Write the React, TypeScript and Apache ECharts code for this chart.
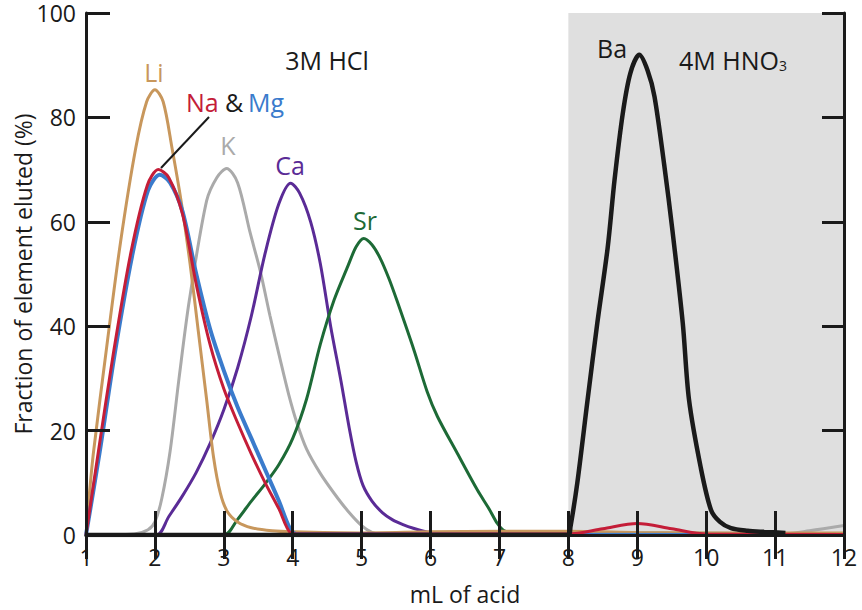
import React, { useEffect, useRef } from "react";
import * as echarts from "echarts";

type Pt = [number, number];

const xTicks = [1, 2, 3, 4, 5, 6, 7, 8, 9, 10, 11, 12];
const yTicks = [0, 20, 40, 60, 80, 100];

const li: Pt[] = [
  [1, 0], [1.05, 8], [1.11, 16], [1.3, 36], [1.5, 56], [1.72, 74], [1.88, 83], [2, 85.3],
  [2.12, 83], [2.25, 74], [2.38, 64], [2.51, 52], [2.63, 39], [2.75, 26], [2.85, 15],
  [2.95, 8], [3.05, 4.5], [3.2, 2.5], [3.4, 1.4], [3.7, 0.8], [4, 0.6], [5, 0.4],
  [6, 0.6], [7, 0.7], [8, 0.7], [9, 0.5], [10, 0.4], [12, 0.4],
];

const na: Pt[] = [
  [1, 0], [1.18, 16], [1.4, 35], [1.65, 54], [1.89, 67], [2.05, 70], [2.2, 68.5],
  [2.4, 61.5], [2.6, 48], [2.8, 36.5], [3, 28], [3.2, 21.5], [3.4, 15.5], [3.6, 10],
  [3.8, 5], [3.97, 0.4], [4.1, 0.2], [8, 0.2], [8.5, 1.2], [9, 2.2], [9.5, 1.2],
  [10, 0.2], [12, 0.1],
];

const mg: Pt[] = [
  [1, 0], [1.2, 16], [1.42, 35], [1.67, 53.5], [1.9, 66], [2.07, 69], [2.22, 67.5],
  [2.4, 62], [2.6, 50], [2.8, 39.5], [3, 31.5], [3.2, 24.5], [3.4, 18.5], [3.6, 12.5],
  [3.8, 6.5], [3.95, 1.5], [4.05, 0.2], [12, 0],
];

const k: Pt[] = [
  [1, 0], [1.7, 0.2], [1.9, 1], [2, 2.5], [2.1, 7], [2.22, 16], [2.35, 30], [2.5, 45],
  [2.75, 64], [2.9, 68.5], [3.04, 70.2], [3.2, 67.5], [3.38, 58], [3.53, 50.5], [3.67, 42],
  [3.82, 33.5], [3.94, 27], [4.06, 21.5], [4.2, 16.5], [4.4, 11.8], [4.6, 8], [4.8, 4.6],
  [5, 1.8], [5.15, 0.5], [5.3, 0.1], [11.1, 0.2], [11.5, 0.8], [12, 1.8],
];

const ca: Pt[] = [
  [1, 0], [2.02, 0], [2.2, 3.5], [2.4, 7.5], [2.6, 12], [2.8, 17.5], [3, 24], [3.2, 32],
  [3.4, 42], [3.6, 54], [3.8, 63.5], [3.97, 67.4], [4.1, 65.5], [4.26, 60], [4.4, 52],
  [4.55, 40], [4.7, 29.5], [4.82, 20.5], [4.92, 14], [5.02, 9.5], [5.15, 6.5], [5.3, 4.3],
  [5.45, 2.9], [5.6, 2], [5.75, 1.3], [5.95, 0.6], [6.2, 0.3], [12, 0.2],
];

const sr: Pt[] = [
  [1, 0], [3, 0], [3.2, 3], [3.4, 6.5], [3.6, 9.8], [3.8, 13.5], [4, 18.5], [4.2, 26],
  [4.4, 36.5], [4.6, 45], [4.8, 51.5], [4.92, 55.2], [5.03, 56.8], [5.15, 55.6],
  [5.27, 53], [5.4, 49], [5.51, 45], [5.76, 35.4], [5.95, 27.5], [6.1, 22.7], [6.39, 15.6],
  [6.68, 8.6], [6.85, 5], [6.97, 2.2], [7.07, 0.8], [7.2, 0.4], [12, 0.3],
];

const ba: Pt[] = [
  [1, 0], [8, 0], [8.03, 1.5], [8.13, 10], [8.28, 26], [8.42, 40.6], [8.57, 55],
  [8.67, 68], [8.79, 80.8], [8.9, 88.5], [9.03, 92], [9.15, 89], [9.25, 84], [9.39, 71],
  [9.51, 58.4], [9.66, 40.6], [9.75, 26], [9.92, 13], [10.07, 4.8], [10.2, 2.5],
  [10.36, 1.3], [10.6, 0.8], [10.84, 0.6], [11.15, 0.4],
];

const FONT = "'Open Sans', 'Noto Sans', sans-serif";
const INK = "#1a1a1a";

export default function App() {
  const ref = useRef<HTMLDivElement>(null);

  useEffect(() => {
    document.body.style.margin = "0";
    const chart = echarts.init(ref.current!, null, { renderer: "svg" });

    const lineSeries = (name: string, data: Pt[], color: string, width: number, z: number) => ({
      name,
      type: "line",
      data,
      showSymbol: false,
      smooth: 0.3,
      lineStyle: { color, width },
      z,
      silent: true,
    });

    const axisCommon = {
      axisLine: { show: true, lineStyle: { color: INK, width: 3 } },
      axisTick: { show: true, inside: true, length: 24, lineStyle: { color: INK, width: 3 } },
      splitLine: { show: false },
    };

    chart.setOption({
      animation: false,
      backgroundColor: "#ffffff",
      grid: { left: 86, right: 18, top: 13, bottom: 75, containLabel: false, outerBoundsMode: "none" },
      xAxis: [
        {
          type: "value",
          min: 1,
          max: 12,
          interval: 1,
          position: "bottom",
          z: 10,
          ...axisCommon,
          axisLabel: {
            color: INK,
            fontSize: 23,
            fontFamily: FONT,
            margin: 10,
            formatter: (v: number) => (xTicks.includes(v) ? String(v) : ""),
          },
          name: "mL of acid",
          nameLocation: "middle",
          nameGap: 47,
          nameTextStyle: { color: INK, fontSize: 23, fontFamily: FONT },
        },
        {
          type: "value",
          min: 1,
          max: 12,
          interval: 1,
          position: "top",
          z: 10,
          ...axisCommon,
          axisLabel: { show: false },
        },
      ],
      yAxis: [
        {
          type: "value",
          min: 0,
          max: 100,
          interval: 20,
          position: "left",
          z: 10,
          ...axisCommon,
          axisLabel: {
            color: INK,
            fontSize: 23,
            lineHeight: 22,
            fontFamily: FONT,
            margin: 10,
            formatter: (v: number) => (yTicks.includes(v) ? String(v) : ""),
          },
          name: "Fraction of element eluted (%)",
          nameLocation: "middle",
          nameGap: 52,
          nameMoveOverlap: false,
          nameRotate: 90,
          nameTextStyle: { color: INK, fontSize: 23, fontFamily: FONT },
        },
        {
          type: "value",
          min: 0,
          max: 100,
          interval: 20,
          position: "right",
          z: 10,
          ...axisCommon,
          axisTick: { show: true, inside: true, length: 22, lineStyle: { color: INK, width: 3 } },
          axisLabel: { show: false },
        },
      ],
      series: [
        {
          name: "shade",
          type: "line",
          data: [],
          z: 1,
          silent: true,
          markArea: {
            silent: true,
            itemStyle: { color: "#dfdfdf" },
            data: [[{ xAxis: 8, yAxis: 0 }, { xAxis: 12, yAxis: 100 }]],
          },
        },
        lineSeries("K", k, "#aaaaaa", 3, 2),
        lineSeries("Ca", ca, "#5a2b96", 3, 3),
        lineSeries("Sr", sr, "#1d6a36", 3, 4),
        lineSeries("Li", li, "#c8975c", 3, 5),
        lineSeries("Mg", mg, "#3a7bcc", 4, 6),
        lineSeries("Na", na, "#c41d38", 3, 7),
        lineSeries("Ba", ba, "#1a1a1a", 4.5, 8),
      ],
      graphic: [
        {
          type: "line",
          z: 20,
          shape: { x1: 209, y1: 117, x2: 161, y2: 168 },
          style: { stroke: INK, lineWidth: 2 },
        },
        { type: "text", z: 20, x: 154, y: 72, style: { text: "Li", fill: "#c8975c", font: `25px ${FONT}`, textAlign: "center", textVerticalAlign: "middle" } },
        { type: "text", z: 20, x: 186, y: 102, style: { text: "Na", fill: "#c41d38", font: `25px ${FONT}`, textAlign: "left", textVerticalAlign: "middle" } },
        { type: "text", z: 20, x: 225, y: 102, style: { text: "&", fill: INK, font: `25px ${FONT}`, textAlign: "left", textVerticalAlign: "middle" } },
        { type: "text", z: 20, x: 248, y: 102, style: { text: "Mg", fill: "#3a7bcc", font: `25px ${FONT}`, textAlign: "left", textVerticalAlign: "middle" } },
        { type: "text", z: 20, x: 228, y: 145, style: { text: "K", fill: "#aaaaaa", font: `25px ${FONT}`, textAlign: "center", textVerticalAlign: "middle" } },
        { type: "text", z: 20, x: 290, y: 165, style: { text: "Ca", fill: "#5a2b96", font: `25px ${FONT}`, textAlign: "center", textVerticalAlign: "middle" } },
        { type: "text", z: 20, x: 365, y: 220, style: { text: "Sr", fill: "#1d6a36", font: `25px ${FONT}`, textAlign: "center", textVerticalAlign: "middle" } },
        { type: "text", z: 20, x: 612, y: 48, style: { text: "Ba", fill: INK, font: `25px ${FONT}`, textAlign: "center", textVerticalAlign: "middle" } },
        { type: "text", z: 20, x: 327, y: 60, style: { text: "3M HCl", fill: INK, font: `25px ${FONT}`, textAlign: "center", textVerticalAlign: "middle" } },
        {
          type: "text",
          z: 20,
          x: 679,
          y: 60,
          style: {
            text: "4M HNO{s|3}",
            fill: INK,
            font: `25px ${FONT}`,
            textAlign: "left",
            textVerticalAlign: "middle",
            rich: { s: { fontSize: 14, fontFamily: FONT, fill: INK, verticalAlign: "bottom" } },
          },
        },
      ],
    });

    return () => chart.dispose();
  }, []);

  return <div ref={ref} style={{ width: 862, height: 610 }} />;
}
